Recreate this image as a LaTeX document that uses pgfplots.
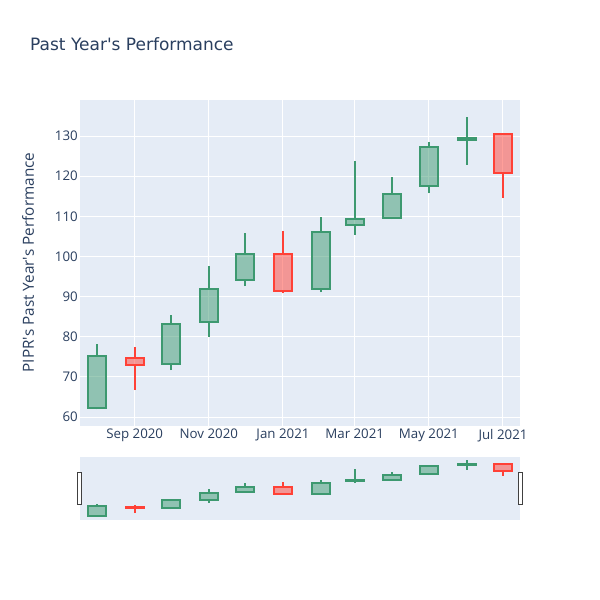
\documentclass[border=0pt]{standalone}
\usepackage{pgfplots}
\pgfplotsset{compat=1.18}
\usepackage{fontspec}
\setmainfont{Open Sans}
\newfontfamily\titlefont{DejaVu Sans}
\definecolor{inc}{HTML}{3D9970}
\definecolor{dec}{HTML}{FF4136}
\definecolor{plotbg}{HTML}{E5ECF6}
\definecolor{fontc}{HTML}{2A3F5F}

% x = days since 1 Aug 2020; args: x, open, high, low, close
\newcommand{\candle}[5]{%
  \pgfmathsetmacro\lo{min(#2,#5)}%
  \pgfmathsetmacro\hi{max(#2,#5)}%
  \pgfmathsetmacro\xa{#1-7.4}%
  \pgfmathsetmacro\xb{#1+7.4}%
  \ifdim #5pt<#2pt \def\cc{dec}\else\def\cc{inc}\fi
  \edef\doit{%
    \noexpand\addplot[draw=\cc, line width=2pt] coordinates {(#1,#4) (#1,\lo)};
    \noexpand\addplot[draw=\cc, line width=2pt] coordinates {(#1,\hi) (#1,#3)};
    \noexpand\addplot[draw=\cc, fill=\cc, fill opacity=0.5, line width=2pt]
      coordinates {(\xa,\lo) (\xb,\lo) (\xb,\hi) (\xa,\hi)} -- cycle;
  }%
  \doit
}
\newcommand{\allcandles}{%
  \candle{0}{62.3}{78.1}{61.9}{75.3}
  \candle{31}{74.6}{77.4}{66.7}{72.9}
  \candle{61}{73.3}{85.3}{71.7}{83.2}
  \candle{92}{83.7}{97.6}{80.0}{92.0}
  \candle{122}{94.1}{105.9}{92.6}{100.7}
  \candle{153}{100.7}{106.4}{90.8}{91.3}
  \candle{184}{91.8}{109.9}{91.1}{106.0}
  \candle{212}{107.8}{123.8}{105.4}{109.4}
  \candle{243}{109.5}{119.9}{109.3}{115.6}
  \candle{273}{117.5}{128.6}{115.7}{127.2}
  \candle{304}{128.9}{134.8}{122.8}{129.4}
  \candle{334}{130.4}{130.4}{114.5}{120.7}
}

\begin{document}
\begin{tikzpicture}
\fill[white] (0pt,0pt) rectangle (600pt,600pt);

\begin{axis}[
  at={(80pt,174pt)}, anchor=south west, scale only axis,
  width=440pt, height=326pt,
  xmin=-14, xmax=348, ymin=57.76, ymax=138.97,
  axis background/.style={fill=plotbg},
  axis line style={draw=none}, tick style={draw=none},
  grid=major, grid style={white, line width=1pt},
  xtick={31,92,153,212,273,334},
  xticklabels={Sep 2020,Nov 2020,Jan 2021,Mar 2021,May 2021,Jul 2021},
  ytick={60,70,...,130},
  ticklabel style={font=\fontsize{13.3}{15}\selectfont, text=fontc},
  xticklabel style={inner sep=3pt},
  yticklabel style={inner sep=2pt},
  /pgf/number format/assume math mode=true,
]
\allcandles
\end{axis}

\begin{axis}[
  at={(80pt,80pt)}, anchor=south west, scale only axis,
  width=440pt, height=63pt,
  xmin=-14, xmax=348, ymin=57.76, ymax=138.97,
  axis background/.style={fill=plotbg},
  axis line style={draw=none}, xtick=\empty, ytick=\empty,
]
\allcandles
\end{axis}

\draw[fill=white, draw=black!75, line width=1pt] (77.5pt,95pt) rectangle (81.5pt,127pt);
\draw[fill=white, draw=black!75, line width=1pt] (518.5pt,95pt) rectangle (522.5pt,127pt);

\node[anchor=west, inner sep=0pt, text=fontc, font=\titlefont\fontsize{17}{20}\selectfont] at (30pt,556pt) {Past Year\textquotesingle s Performance};
\node[rotate=90, text=fontc, font=\fontsize{15.3}{18}\selectfont] at (28pt,337.5pt) {PIPR\textquotesingle s Past Year\textquotesingle s Performance};
\end{tikzpicture}
\end{document}
